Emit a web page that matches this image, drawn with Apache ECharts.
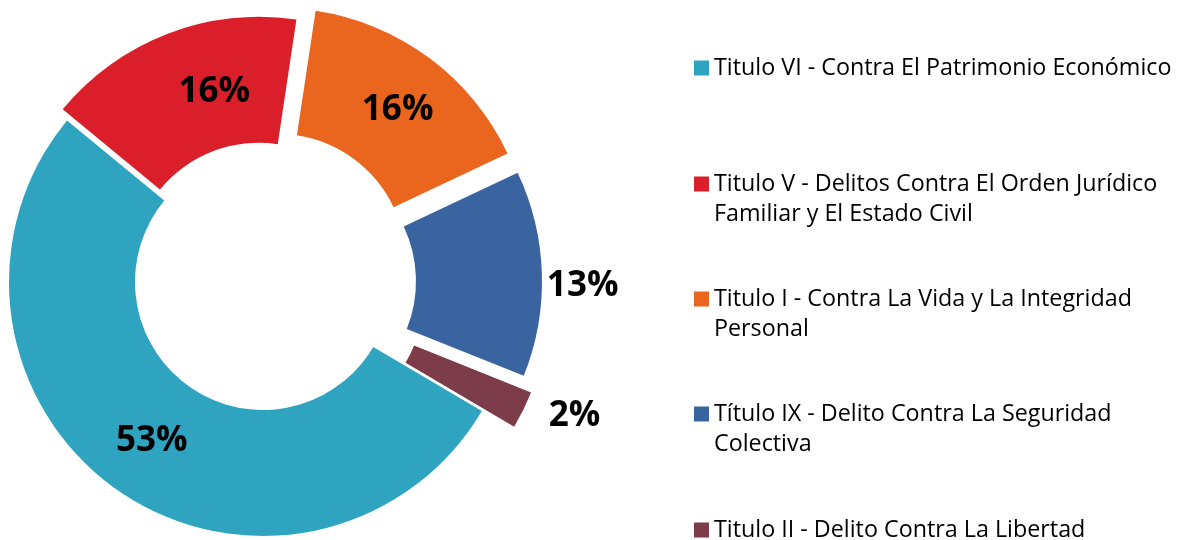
<!DOCTYPE html>
<html>
<head>
<meta charset="utf-8">
<script src="https://cdn.jsdelivr.net/npm/echarts@6/dist/echarts.min.js"></script>
<style>
html,body{margin:0;padding:0;background:#fff;}
#main{width:1177px;height:540px;}
</style>
</head>
<body>
<div id="main"></div>
<script>
const categories = [
  'Titulo VI - Contra El Patrimonio Económico',
  'Titulo V - Delitos Contra El Orden Jurídico Familiar y El Estado Civil',
  'Titulo I - Contra La Vida y La Integridad Personal',
  'Título IX - Delito Contra La Seguridad Colectiva',
  'Titulo II - Delito Contra La Libertad'
];
const legendLines = [
  ['Titulo VI - Contra El Patrimonio Económico'],
  ['Titulo V - Delitos Contra El Orden Jurídico', 'Familiar y El Estado Civil'],
  ['Titulo I - Contra La Vida y La Integridad', 'Personal'],
  ['Título IX - Delito Contra La Seguridad', 'Colectiva'],
  ['Titulo II - Delito Contra La Libertad']
];
const values = [52.5, 16.4, 15.6, 13.1, 2.4];

// styling / layout (not data)
const colors = ['#2EA4C0', '#DA1F2A', '#EA661F', '#3A64A0', '#7D3C4A'];
const explode = [0, 12, 25, 25, 36];
const labelInside = [true, true, true, false, false];
const labelShift = [[0, 0], [25, 2], [4, 4], [0, 12], [8, 0]];
const center = [263, 282];
const radius = [128, 254];
const startAngle = 329.5;
const legendFirstLineY = [67, 183, 298, 413, 529];

const chart = echarts.init(document.getElementById('main'), null, {renderer: 'canvas'});
const total = values.reduce((a, b) => a + b, 0);
let cum = 0;
const series = values.map((v, i) => {
  const start = startAngle - 360 * cum / total;
  const mid = (start - 180 * v / total) * Math.PI / 180;
  cum += v;
  const c = [center[0] + explode[i] * Math.cos(mid), center[1] - explode[i] * Math.sin(mid)];
  return {
    type: 'pie',
    center: c,
    radius: radius,
    startAngle: startAngle,
    clockwise: true,
    avoidLabelOverlap: false,
    silent: true,
    animation: false,
    label: {
      show: true,
      position: labelInside[i] ? 'inside' : 'outside',
      formatter: p => Math.round(p.percent) + '%',
      fontFamily: 'Open Sans',
      fontWeight: 'bold',
      fontSize: 35,
      color: '#000'
    },
    labelLayout: {dx: labelShift[i][0], dy: labelShift[i][1]},
    labelLine: {show: false, length: i === 4 ? 14 : 0, length2: 0},
    data: categories.map((name, j) => ({
      name: name,
      value: values[j],
      itemStyle: {color: j === i ? colors[j] : 'rgba(0,0,0,0)', borderWidth: 0},
      label: {show: j === i}
    }))
  };
});

const legends = categories.map((name, i) => {
  const lines = legendLines[i];
  const nLines = lines.length === 1 ? 1 : 3;
  const lh = 30;
  return {
    orient: 'vertical',
    left: 694,
    top: legendFirstLineY[i] + 1 - nLines * lh / 2,
    padding: 0,
    itemWidth: 15,
    itemHeight: 15,
    itemGap: 0,
    icon: 'rect',
    selectedMode: false,
    formatter: () => (lines.length === 1 ? lines[0] : ' \n' + lines.join('\n')),
    textStyle: {fontFamily: 'Open Sans', fontSize: 23.3, color: '#000', lineHeight: lh},
    data: [{name: name, itemStyle: {color: colors[i]}}]
  };
});

chart.setOption({
  backgroundColor: '#fff',
  animation: false,
  legend: legends,
  series: series
});
</script>
</body>
</html>
